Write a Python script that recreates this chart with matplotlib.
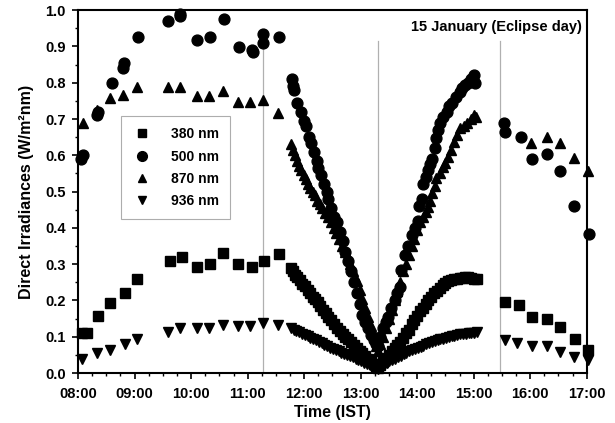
import matplotlib
matplotlib.use("Agg")
import matplotlib.pyplot as plt
from matplotlib.ticker import MultipleLocator

plt.rcParams["font.family"] = ["Liberation Sans", "DejaVu Sans"]
plt.rcParams["font.weight"] = "bold"

# time in decimal hours (IST), values in W/m2/nm
t380 = [8.07, 8.16, 8.36, 8.57, 8.83, 9.04, 9.63, 9.83, 10.10, 10.33, 10.57, 10.83, 11.07, 11.29, 11.55,
        11.77, 11.80, 11.84, 11.88, 11.92, 11.97, 12.01, 12.06, 12.10, 12.15, 12.19, 12.24, 12.28, 12.33,
        12.38, 12.43, 12.48, 12.53, 12.58, 12.63, 12.68, 12.73, 12.78, 12.83, 12.88, 12.93, 12.98, 13.03,
        13.08, 13.13, 13.18, 13.23, 13.28,
        13.31, 13.35, 13.40, 13.45, 13.50, 13.55, 13.60, 13.65, 13.70, 13.75, 13.80, 13.85, 13.90, 13.95,
        14.00, 14.05, 14.10, 14.15, 14.20, 14.25, 14.30, 14.35, 14.40, 14.45, 14.50, 14.55, 14.60, 14.65,
        14.70, 14.75, 14.80, 14.85, 14.90, 14.95, 15.00, 15.05,
        15.56, 15.81, 16.04, 16.30, 16.53, 16.80, 17.03]
v380 = [0.11, 0.11, 0.157, 0.193, 0.22, 0.26, 0.308, 0.32, 0.293, 0.30, 0.33, 0.30, 0.293, 0.31, 0.328,
        0.29, 0.28, 0.27, 0.265, 0.256, 0.245, 0.24, 0.23, 0.22, 0.21, 0.205, 0.195, 0.185, 0.175,
        0.165, 0.155, 0.145, 0.135, 0.125, 0.117, 0.108, 0.10, 0.093, 0.085, 0.077, 0.07, 0.062, 0.055,
        0.047, 0.04, 0.033, 0.025, 0.018,
        0.015, 0.022, 0.03, 0.042, 0.05, 0.06, 0.07, 0.077, 0.087, 0.097, 0.11, 0.12, 0.135, 0.147,
        0.157, 0.17, 0.18, 0.19, 0.20, 0.21, 0.22, 0.227, 0.235, 0.243, 0.248, 0.253, 0.256, 0.258,
        0.26, 0.262, 0.263, 0.264, 0.265, 0.262, 0.26, 0.258,
        0.196, 0.187, 0.155, 0.148, 0.127, 0.093, 0.063]

t500 = [8.05, 8.08, 8.34, 8.36, 8.60, 8.80, 8.81, 9.06, 9.59, 9.80, 9.81, 10.10, 10.33, 10.58, 10.85,
        11.08, 11.10, 11.27, 11.27, 11.55,
        11.78, 11.80, 11.82, 11.88, 11.95, 12.00, 12.03, 12.08, 12.12, 12.17, 12.22, 12.25, 12.30, 12.35,
        12.40, 12.43, 12.48, 12.53, 12.58, 12.63, 12.68, 12.73, 12.78, 12.83, 12.88, 12.93, 12.98, 13.03,
        13.08, 13.13, 13.18, 13.23, 13.28,
        13.30, 13.35, 13.39, 13.44, 13.48, 13.54, 13.60, 13.65, 13.69, 13.72, 13.78, 13.84, 13.90, 13.96,
        14.01, 14.04, 14.08, 14.10, 14.15, 14.19, 14.23, 14.27, 14.31, 14.34, 14.37, 14.40, 14.46, 14.52,
        14.57, 14.61, 14.68, 14.75, 14.80, 14.84, 14.90, 14.96, 15.01, 15.03,
        15.54, 15.55, 15.83, 16.04, 16.30, 16.53, 16.78, 17.04]
v500 = [0.59, 0.60, 0.71, 0.72, 0.80, 0.84, 0.855, 0.925, 0.97, 0.985, 0.99, 0.917, 0.925, 0.975, 0.898,
        0.89, 0.885, 0.935, 0.91, 0.925,
        0.81, 0.79, 0.78, 0.745, 0.72, 0.695, 0.68, 0.65, 0.635, 0.61, 0.585, 0.565, 0.545, 0.52,
        0.50, 0.48, 0.455, 0.43, 0.415, 0.39, 0.365, 0.335, 0.31, 0.28, 0.25, 0.22, 0.19, 0.16,
        0.14, 0.125, 0.105, 0.09, 0.08,
        0.075, 0.10, 0.125, 0.14, 0.155, 0.18, 0.20, 0.22, 0.237, 0.284, 0.325, 0.35, 0.38, 0.40,
        0.42, 0.46, 0.48, 0.52, 0.54, 0.56, 0.575, 0.59, 0.62, 0.647, 0.67, 0.69, 0.705, 0.72,
        0.735, 0.745, 0.76, 0.774, 0.785, 0.793, 0.80, 0.81, 0.82, 0.80,
        0.69, 0.665, 0.65, 0.59, 0.603, 0.556, 0.46, 0.383]

t870 = [8.09, 8.34, 8.57, 8.80, 9.04, 9.59, 9.80, 10.10, 10.31, 10.56, 10.83, 11.05, 11.27, 11.54,
        11.77, 11.80, 11.83, 11.87, 11.91, 11.95, 11.99, 12.03, 12.07, 12.11, 12.15, 12.19, 12.23, 12.28,
        12.32, 12.37, 12.42, 12.47, 12.52, 12.57, 12.62, 12.67, 12.72, 12.77, 12.82, 12.87, 12.93, 12.98,
        13.03, 13.08, 13.13, 13.18, 13.23, 13.28,
        13.31, 13.35, 13.40, 13.45, 13.50, 13.55, 13.60, 13.65, 13.70, 13.75, 13.80, 13.85, 13.90, 13.95,
        14.00, 14.05, 14.10, 14.15, 14.19, 14.23, 14.27, 14.31, 14.34, 14.40, 14.45, 14.50, 14.54, 14.60,
        14.66, 14.70, 14.75, 14.82, 14.89, 14.95, 15.01, 15.04,
        16.02, 16.29, 16.52, 16.77, 17.02]
v870 = [0.69, 0.725, 0.757, 0.765, 0.787, 0.787, 0.787, 0.763, 0.763, 0.777, 0.748, 0.748, 0.752, 0.716,
        0.63, 0.615, 0.60, 0.585, 0.57, 0.56, 0.545, 0.535, 0.52, 0.51, 0.50, 0.49, 0.475, 0.465,
        0.455, 0.44, 0.43, 0.415, 0.40, 0.385, 0.37, 0.35, 0.335, 0.32, 0.30, 0.28, 0.255, 0.23,
        0.205, 0.18, 0.155, 0.13, 0.10, 0.075,
        0.06, 0.08, 0.10, 0.125, 0.15, 0.175, 0.20, 0.225, 0.25, 0.28, 0.30, 0.325, 0.35, 0.37,
        0.395, 0.415, 0.43, 0.445, 0.457, 0.475, 0.496, 0.515, 0.537, 0.55, 0.567, 0.58, 0.595, 0.615,
        0.637, 0.655, 0.675, 0.68, 0.69, 0.70, 0.71, 0.705,
        0.634, 0.65, 0.634, 0.593, 0.556]

t936 = [8.07, 8.34, 8.57, 8.83, 9.04, 9.59, 9.80, 10.10, 10.31, 10.56, 10.83, 11.05, 11.27, 11.54,
        11.77, 11.82, 11.86, 11.91, 11.96, 12.01, 12.06, 12.11, 12.16, 12.21, 12.26, 12.31, 12.36, 12.41,
        12.46, 12.51, 12.56, 12.61, 12.66, 12.71, 12.76, 12.81, 12.86, 12.91, 12.96, 13.01, 13.06, 13.11,
        13.16, 13.21, 13.26,
        13.31, 13.36, 13.41, 13.46, 13.51, 13.56, 13.61, 13.66, 13.71, 13.76, 13.81, 13.86, 13.91, 13.96,
        14.01, 14.06, 14.11, 14.16, 14.21, 14.26, 14.31, 14.36, 14.41, 14.46, 14.51, 14.56, 14.61, 14.66,
        14.71, 14.76, 14.81, 14.86, 14.91, 14.96, 15.01, 15.05,
        15.56, 15.77, 16.04, 16.29, 16.52, 16.77, 17.03]
v936 = [0.04, 0.055, 0.063, 0.08, 0.093, 0.113, 0.123, 0.123, 0.125, 0.132, 0.13, 0.13, 0.137, 0.132,
        0.123, 0.12, 0.117, 0.112, 0.108, 0.105, 0.102, 0.098, 0.094, 0.09, 0.086, 0.082, 0.078, 0.074,
        0.07, 0.067, 0.063, 0.06, 0.056, 0.053, 0.05, 0.046, 0.043, 0.04, 0.036, 0.033, 0.029, 0.025,
        0.022, 0.018, 0.014,
        0.012, 0.017, 0.022, 0.027, 0.032, 0.036, 0.04, 0.044, 0.048, 0.052, 0.056, 0.06, 0.063, 0.067,
        0.07, 0.073, 0.076, 0.079, 0.082, 0.085, 0.088, 0.09, 0.093, 0.095, 0.097, 0.099, 0.101, 0.103,
        0.105, 0.107, 0.108, 0.109, 0.11, 0.11, 0.111, 0.112,
        0.09, 0.083, 0.075, 0.075, 0.058, 0.044, 0.036]

eclipse_marks = [11.27, 13.30, 15.47]
hours = [8, 9, 10, 11, 12, 13, 14, 15, 16, 17]
hour_labels = ["08:00", "09:00", "10:00", "11:00", "12:00", "13:00", "14:00", "15:00", "16:00", "17:00"]

fig = plt.figure(figsize=(6.15, 4.23), dpi=100)
ax = fig.add_axes([0.127, 0.118, 0.827, 0.858])

for x in eclipse_marks:
    ax.plot([x, x], [0, 0.915], color="#b0b0b0", lw=0.9, zorder=1)

ax.plot(t380, v380, "s", color="black", ms=6.8, ls="none", label="380 nm", zorder=3, clip_on=False)
ax.plot(t500, v500, "o", color="black", ms=7.8, ls="none", label="500 nm", zorder=3, clip_on=False)
ax.plot(t870, v870, "^", color="black", ms=6.8, ls="none", label="870 nm", zorder=3, clip_on=False)
ax.plot(t936, v936, "v", color="black", ms=6.8, ls="none", label="936 nm", zorder=3, clip_on=False)

ax.set_xlim(8, 17)
ax.set_ylim(0, 1.0)
ax.set_xticks(hours)
ax.set_xticklabels(hour_labels)
ax.xaxis.set_minor_locator(MultipleLocator(0.25))
ax.yaxis.set_major_locator(MultipleLocator(0.1))
ax.yaxis.set_minor_locator(MultipleLocator(0.05))
ax.tick_params(which="major", length=4, width=1.2, labelsize=10.5)
ax.tick_params(axis="y", which="major", pad=5)
ax.tick_params(axis="x", which="major", pad=6)
ax.tick_params(which="minor", length=2.5, width=1.0)
for lab in ax.get_xticklabels() + ax.get_yticklabels():
    lab.set_fontweight("bold")
for s in ax.spines.values():
    s.set_linewidth(1.5)

ax.set_xlabel("Time (IST)", fontsize=11.5, fontweight="bold", labelpad=3)
ax.set_ylabel("Direct Irradiances (W/m²nm)", fontsize=11.5, fontweight="bold", labelpad=8)

ax.text(0.99, 0.953, "15 January (Eclipse day)", transform=ax.transAxes, ha="right", va="center",
        fontsize=10.5, fontweight="bold")

leg = ax.legend(loc="upper left", bbox_to_anchor=(0.084, 0.708), frameon=True, fancybox=False,
                edgecolor="#999999", prop={"weight": "bold", "size": 10}, handletextpad=1.4,
                borderpad=0.8, labelspacing=0.6, handlelength=1.4, borderaxespad=0,
                markerscale=0.9)
leg.get_frame().set_linewidth(0.8)

fig.savefig("out.png", dpi=100)
